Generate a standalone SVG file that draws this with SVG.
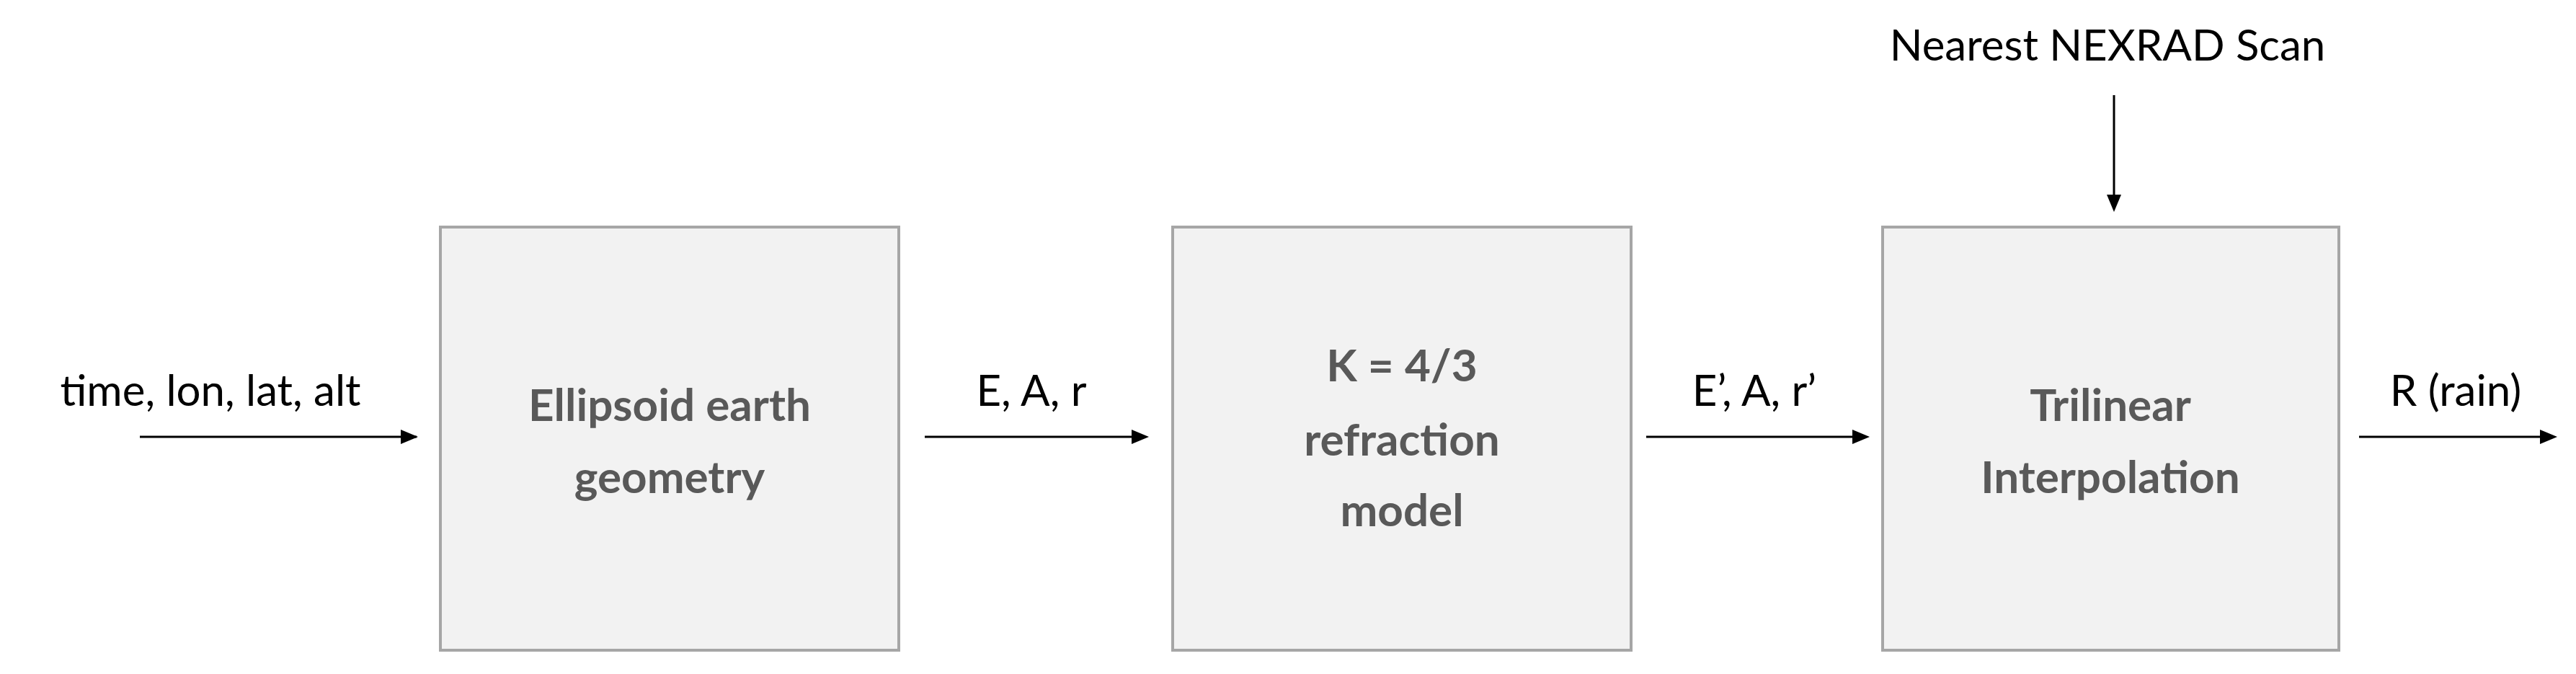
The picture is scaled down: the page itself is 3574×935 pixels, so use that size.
<svg xmlns="http://www.w3.org/2000/svg" width="3574" height="935" viewBox="0 0 3574 935">
<style>
.box{fill:#f2f2f2;stroke:#a6a6a6;stroke-width:4}
.bt{font-family:Lato,"Open Sans",sans-serif;font-weight:bold;font-size:62px;fill:#595959;text-anchor:middle}
.lb{font-family:Lato,"Open Sans",sans-serif;font-size:60px;fill:#000;text-anchor:middle}
.ar{stroke:#000;stroke-width:3;fill:none;marker-end:url(#ah)}
</style>
<defs><marker id="ah" viewBox="0 0 10 10" refX="10" refY="5" markerWidth="8" markerHeight="8" markerUnits="userSpaceOnUse" orient="auto"><path d="M0,0L10,5L0,10z" fill="#000"/></marker></defs>
<rect width="3574" height="935" fill="#fff"/>
<g id="connectors">
<line class="ar" x1="194" y1="606" x2="578" y2="606" style="marker-end:none"/><path d="M556,596L580,606L556,616z"/>
<line class="ar" x1="1283" y1="606" x2="1575" y2="606" style="marker-end:none"/><path d="M1570,596L1594,606L1570,616z"/>
<line class="ar" x1="2284" y1="606" x2="2575" y2="606" style="marker-end:none"/><path d="M2570,596L2594,606L2570,616z"/>
<line class="ar" x1="3273" y1="606" x2="3530" y2="606" style="marker-end:none"/><path d="M3524,596L3548,606L3524,616z"/>
<line class="ar" x1="2933" y1="132" x2="2933" y2="274" style="marker-end:none"/><path d="M2923,270L2933,294L2943,270z"/>
</g>
<g id="n1"><rect class="box" x="611" y="315" width="636" height="587"/><text class="bt" x="929" y="584">Ellipsoid earth</text><text class="bt" x="929" y="684">geometry</text></g>
<g id="n2"><rect class="box" x="1627" y="315" width="636" height="587"/><text class="bt" x="1945" y="529">K = 4/3</text><text class="bt" x="1945" y="632">refraction</text><text class="bt" x="1945" y="730">model</text></g>
<g id="n3"><rect class="box" x="2612" y="315" width="633" height="587"/><text class="bt" x="2928" y="584">Trilinear</text><text class="bt" x="2928" y="684">Interpolation</text></g>
<g id="labels">
<text class="lb" x="292" y="563">time, lon, lat, alt</text>
<text class="lb" x="1431" y="563">E, A, r</text>
<text class="lb" x="2434" y="563">E’, A, r’</text>
<text class="lb" x="3407" y="563">R (rain)</text>
<text class="lb" x="2924" y="84">Nearest NEXRAD Scan</text>
</g>
</svg>
